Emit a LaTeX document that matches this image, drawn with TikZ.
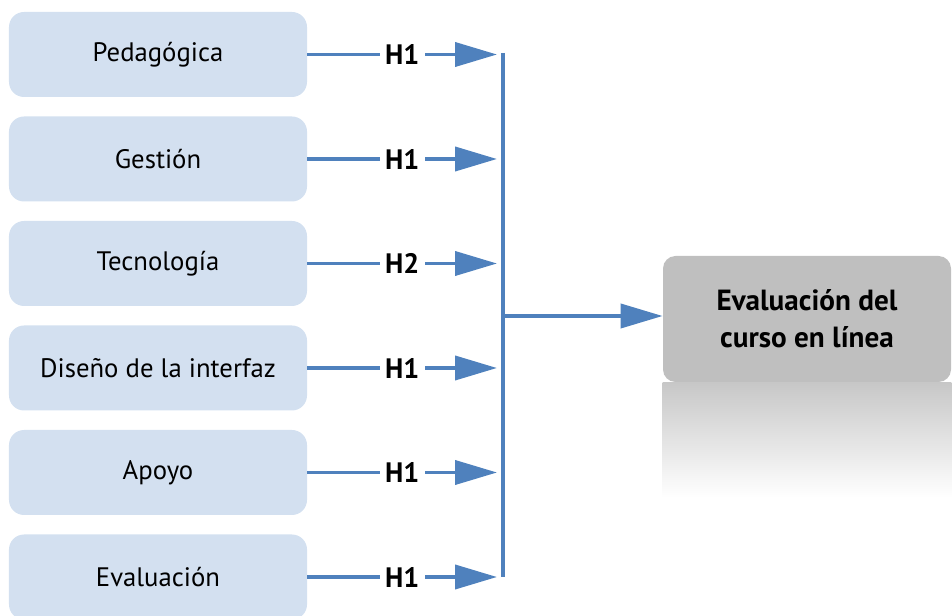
\documentclass[tikz,border=0pt]{standalone}
\usepackage{fontspec}
\setmainfont{PT Sans}
\usetikzlibrary{arrows.meta}
\definecolor{boxblue}{HTML}{D3E0F0}
\definecolor{lineblue}{HTML}{4F81BD}
\definecolor{boxgray}{HTML}{BFBFBF}
\begin{document}
\begin{tikzpicture}[
  factor/.style={fill=boxblue,rounded corners=0.3cm,minimum width=5.96cm,minimum height=1.7cm,font=\fontsize{15.2}{18}\selectfont},
  result/.style={fill=boxgray,rounded corners=0.25cm,minimum width=5.76cm,minimum height=2.52cm,align=center,font=\fontsize{16.6}{21}\selectfont\bfseries},
  flow/.style={draw=lineblue,line width=2.2pt,-{Triangle[length=0.84cm,width=0.48cm]}},
  hyp/.style={fill=white,inner xsep=3pt,inner ysep=1pt,font=\fontsize{16}{19}\selectfont\bfseries}
]
\useasboundingbox (0,0) rectangle (19.04,12.32);
\node [factor,name=f1] at (3.16,11.23){Pedagógica};
\node [factor,name=f2] at (3.16,9.14){Gestión};
\node [factor,name=f3] at (3.16,7.05){Tecnología};
\node [factor,name=f4] at (3.16,4.96){Diseño de la interfaz};
\node [factor,name=f5] at (3.16,2.87){Apoyo};
\node [factor,name=f6] at (3.16,0.78){Evaluación};
\node [result,name=eval] at (16.14,5.94){Evaluación del\\curso en línea};
\shade [top color=black!22,bottom color=white] (eval.south west) rectangle ([yshift=-2.3cm]eval.south east);
\coordinate (t1) at (9.94,11.23);
\coordinate (t2) at (9.94,9.14);
\coordinate (t3) at (9.94,7.05);
\coordinate (t4) at (9.94,4.96);
\coordinate (t5) at (9.94,2.87);
\coordinate (t6) at (9.94,0.78);
\coordinate (bustop) at (10.06,11.26);
\coordinate (busbot) at (10.06,0.78);
\coordinate (join) at (10.06,6.0);
\draw[flow] (f1.east)--node[hyp]{H1}(t1);
\draw[flow] (f2.east)--node[hyp]{H1}(t2);
\draw[flow] (f3.east)--node[hyp]{H2}(t3);
\draw[flow] (f4.east)--node[hyp]{H1}(t4);
\draw[flow] (f5.east)--node[hyp]{H1}(t5);
\draw[flow] (f6.east)--node[hyp]{H1}(t6);
\draw[lineblue,line width=2.2pt] (bustop)--(busbot);
\draw[flow] (join)--(join -| eval.west);
\end{tikzpicture}
\end{document}
